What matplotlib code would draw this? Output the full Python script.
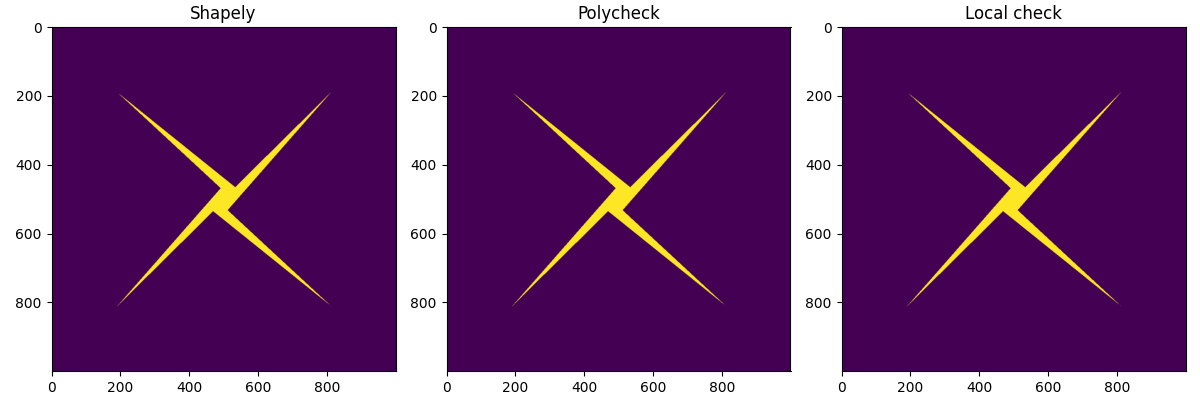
import numpy as np
import matplotlib
matplotlib.use("Agg")
import matplotlib.pyplot as plt
from matplotlib.path import Path

# polygon (pixel coords: column, row)
poly_x = [190, 532, 810, 510, 810, 468, 190, 490]
poly_y = [190, 465, 190, 532, 810, 535, 810, 468]

titles = ["Shapely", "Polycheck", "Local check"]
N = 1000

# rasterise the polygon on an N x N grid
cols, rows = np.meshgrid(np.arange(N), np.arange(N))
pts = np.column_stack([cols.ravel(), rows.ravel()])
path = Path(np.column_stack([poly_x, poly_y]))
mask = path.contains_points(pts).reshape(N, N).astype(int)

fig = plt.figure(figsize=(12, 4), dpi=100)
lefts = [51.5 / 1200, 446.5 / 1200, 841.5 / 1200]
for left, title in zip(lefts, titles):
    ax = fig.add_axes([left, 29 / 400, 344 / 1200, 344 / 400])
    ax.imshow(mask)
    ax.set_title(title)

fig.savefig("out.png", dpi=100)
